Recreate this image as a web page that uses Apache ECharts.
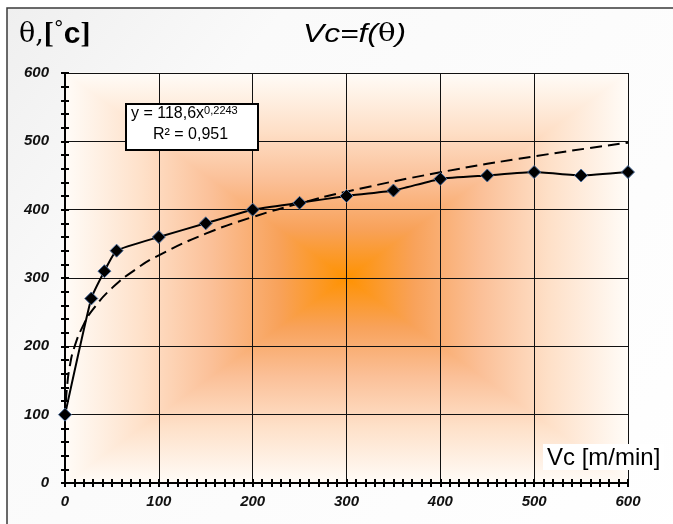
<!DOCTYPE html>
<html><head><meta charset="utf-8">
<script src="https://cdn.jsdelivr.net/npm/echarts@6/dist/echarts.min.js"></script>
<style>html,body{margin:0;padding:0;background:#fff}#c{width:673px;height:524px}</style>
</head><body><div id="c"></div>
<script>
// measured data
const vcValues = [0, 28, 42, 55, 100, 150, 200, 250, 300, 350, 400, 450, 500, 550, 600];
const thetaValues = [100, 270, 310, 340, 360, 380, 400, 410, 420, 428, 445, 450, 455, 450, 455];
// power trend line (y = 118,6x^0,2243)
const trendX = [1, 2, 5, 10, 20, 30, 50, 75, 100, 150, 200, 250, 300, 400, 500, 600];
const trendY = [118.6, 138.5, 170.2, 198.8, 232.2, 254.4, 285.2, 312.4, 333.2, 364.9, 389.2, 409.2, 426.3, 454.7, 478.0, 498.0];
const xTicks = [0, 100, 200, 300, 400, 500, 600];
const yTicks = [0, 100, 200, 300, 400, 500, 600];

const G = {left: 65, right: 45, top: 73, bottom: 41};
const W = 673, H = 524;
const L = G.left, R = W - G.right, T = G.top, B = H - G.bottom;
const CX = (L + R) / 2, CY = (T + B) / 2;
const stops = [
  {offset: 0, color: '#FFFCF8'},
  {offset: 0.28, color: '#FEE0C8'},
  {offset: 0.52, color: '#FBC098'},
  {offset: 0.76, color: '#F8A25A'},
  {offset: 1, color: '#FF9200'}
];
function tri(pts, g) {
  const grad = () => new echarts.graphic.LinearGradient(g[0], g[1], g[2], g[3], stops);
  return {type: 'polygon', silent: true, z: -10, shape: {points: pts},
    style: {fill: grad(), stroke: grad(), lineWidth: 1.2}};
}
const font = '"Liberation Sans", Arial, sans-serif';
const chart = echarts.init(document.getElementById('c'));
const axisLabelStyle = {fontFamily: font, fontWeight: 'bold', fontStyle: 'italic', fontSize: 15, color: '#111'};
chart.setOption({
  animation: false,
  grid: G,
  xAxis: [{
    type: 'value', min: 0, max: 600, interval: 100,
    axisLine: {show: true, onZero: false, lineStyle: {color: '#000', width: 2}},
    axisTick: {show: true, length: 4, lineStyle: {color: '#000', width: 2}},
    minorTick: {show: true, splitNumber: 10, length: 4, lineStyle: {color: '#000', width: 2}},
    axisLabel: Object.assign({margin: 11, formatter: v => xTicks.includes(v) ? String(v) : ''}, axisLabelStyle),
    splitLine: {show: true, lineStyle: {color: '#111', width: 1}}
  }, {
    type: 'value', min: 0, max: 600, interval: 100, position: 'bottom',
    axisLine: {show: false},
    axisTick: {show: true, inside: true, length: 4, lineStyle: {color: '#000', width: 2}},
    minorTick: {show: true, splitNumber: 10, length: 4, lineStyle: {color: '#000', width: 2}},
    axisLabel: {show: false}, splitLine: {show: false}
  }],
  yAxis: [{
    type: 'value', min: 0, max: 600, interval: 100,
    axisLine: {show: true, onZero: false, lineStyle: {color: '#000', width: 2}},
    axisTick: {show: true, length: 4, lineStyle: {color: '#000', width: 2}},
    minorTick: {show: true, splitNumber: 5, length: 4, lineStyle: {color: '#000', width: 2}},
    axisLabel: Object.assign({margin: 16, formatter: v => yTicks.includes(v) ? String(v) : ''}, axisLabelStyle),
    splitLine: {show: true, lineStyle: {color: '#111', width: 1}}
  }, {
    type: 'value', min: 0, max: 600, interval: 100, position: 'left',
    axisLine: {show: false},
    axisTick: {show: true, inside: true, length: 4, lineStyle: {color: '#000', width: 2}},
    minorTick: {show: true, splitNumber: 5, length: 4, lineStyle: {color: '#000', width: 2}},
    axisLabel: {show: false}, splitLine: {show: false}
  }],
  graphic: {elements: [
    {type: 'rect', silent: true, z: -20, shape: {x: 7, y: 8, width: 700, height: 540},
      style: {fill: new echarts.graphic.LinearGradient(0, 0, 1, 1, [{offset: 0, color: '#EFEFEF'}, {offset: 0.25, color: '#FAFAFA'}, {offset: 1, color: '#FFFFFF'}]), stroke: '#3a3a3a', lineWidth: 1.5}},
    tri([[L, T], [R, T], [CX, CY]], [0, 0, 0, 1]),
    tri([[L, B], [R, B], [CX, CY]], [0, 1, 0, 0]),
    tri([[L, T], [L, B], [CX, CY]], [0, 0, 1, 0]),
    tri([[R, T], [R, B], [CX, CY]], [1, 0, 0, 0]),
    {type: 'text', z: 10, left: 19, top: 20, style: {
      text: '{a|θ,}{b|[}{d|°}{c|c}{b|]}',
      rich: {
        a: {fontFamily: '"DejaVu Serif", "Liberation Serif", serif', fontSize: 27, fill: '#000'},
        b: {fontFamily: '"Liberation Serif", serif', fontSize: 30, fontWeight: 'bold', fill: '#000'},
        d: {fontFamily: '"DejaVu Sans", sans-serif', fontSize: 20, fill: '#000', verticalAlign: 'top'},
        c: {fontFamily: font, fontSize: 30, fontWeight: 'bold', fill: '#000'}
      }}},
    {type: 'text', z: 10, x: 303, y: 22, scaleX: 1.22, style: {
      text: '{a|Vc=}{b|f}{a|(}{t|θ}{a|)}',
      rich: {
        a: {fontFamily: font, fontSize: 26, fontStyle: 'italic', fill: '#000'},
        b: {fontFamily: font, fontSize: 26, fontStyle: 'italic', fill: '#000'},
        t: {fontFamily: '"DejaVu Serif", serif', fontSize: 24, fill: '#000'}
      }}},
    {type: 'text', z: 10, left: 543, top: 444, style: {
      text: 'Vc [m/min]', fontFamily: font, fontSize: 24, fill: '#000',
      backgroundColor: '#fff', padding: [2, 4, 0, 4]}},
    {type: 'rect', z: 10, shape: {x: 126, y: 104, width: 132, height: 46},
      style: {fill: '#fff', stroke: '#000', lineWidth: 2}},
    {type: 'text', z: 11, left: 131, top: 105, style: {
      text: '{a|y = 118,6x}{s|0,2243}',
      rich: {a: {fontFamily: font, fontSize: 16, fill: '#000'}, s: {fontFamily: font, fontSize: 11, fill: '#000', verticalAlign: 'top', padding: [0, 0, 6, 0]}}}},
    {type: 'text', z: 11, left: 153, top: 127, style: {
      text: 'R² = 0,951', fontFamily: font, fontSize: 16, fill: '#000'}}
  ]},
  series: [{
    type: 'line', name: 'trend', data: trendX.map((x, i) => [x, trendY[i]]),
    showSymbol: false, smooth: true, z: 3,
    lineStyle: {color: '#000', width: 2, type: [12, 6]}
  }, {
    type: 'line', name: 'theta', data: vcValues.map((x, i) => [x, thetaValues[i]]),
    smooth: 0.15, symbol: 'diamond', symbolSize: 13, z: 4,
    lineStyle: {color: '#000', width: 2},
    itemStyle: {color: '#000', borderColor: '#4d6f9e', borderWidth: 1}
  }]
});
</script></body></html>
